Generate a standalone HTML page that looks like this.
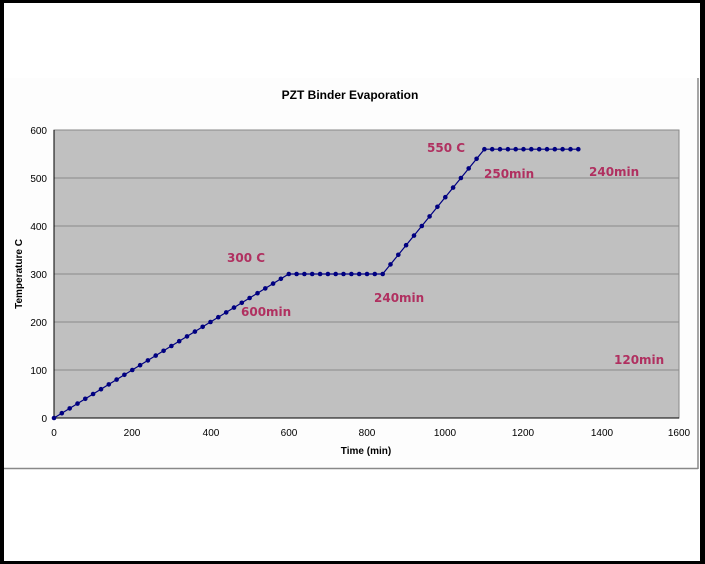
<!DOCTYPE html>
<html><head><meta charset="utf-8"><style>
body{margin:0;background:#fff}
svg{display:block;font-family:"Liberation Sans",Arial,sans-serif}
</style></head><body>
<svg width="705" height="564" viewBox="0 0 705 564">
<rect x="0" y="0" width="705" height="564" fill="#000"/>
<rect x="4" y="3" width="696" height="558" fill="#fff"/>
<rect x="4" y="78" width="694" height="390" fill="#fdfdfd"/>
<line x1="698" y1="78" x2="698" y2="469" stroke="#888" stroke-width="1.5"/>
<line x1="4" y1="468.5" x2="698" y2="468.5" stroke="#888" stroke-width="1.5"/>
<rect x="54" y="130" width="625" height="288" fill="#c0c0c0" stroke="#888" stroke-width="1"/>
<g stroke="#8a8a8a" stroke-width="1">
<line x1="54" y1="178" x2="679" y2="178"/>
<line x1="54" y1="226" x2="679" y2="226"/>
<line x1="54" y1="274" x2="679" y2="274"/>
<line x1="54" y1="322" x2="679" y2="322"/>
<line x1="54" y1="370" x2="679" y2="370"/>
</g>
<g stroke="#000" stroke-width="1">
<line x1="54" y1="418" x2="679" y2="418"/>
<line x1="54" y1="130" x2="54" y2="418"/>
</g>
<g font-size="10" fill="#000" text-anchor="end">
<text x="47" y="134">600</text><text x="47" y="182">500</text><text x="47" y="230">400</text>
<text x="47" y="278">300</text><text x="47" y="326">200</text><text x="47" y="374">100</text><text x="47" y="422">0</text>
</g>
<g font-size="10" fill="#000" text-anchor="middle">
<text x="54" y="436">0</text><text x="132" y="436">200</text><text x="211" y="436">400</text>
<text x="289" y="436">600</text><text x="367" y="436">800</text><text x="445" y="436">1000</text>
<text x="523" y="436">1200</text><text x="602" y="436">1400</text><text x="679" y="436">1600</text>
</g>
<text x="366" y="454" font-size="10" font-weight="bold" text-anchor="middle">Time (min)</text>
<text x="22" y="274" font-size="10" font-weight="bold" text-anchor="middle" transform="rotate(-90 22 274)">Temperature C</text>
<text x="350" y="99" font-size="12" font-weight="bold" text-anchor="middle">PZT Binder Evaporation</text>
<polyline fill="none" stroke="#000080" stroke-width="1.2" points="54,418 288.75,274 382.65,274 484.4,149.2 578.3,149.2"/>
<g fill="#000080" id="pts"></g>
<g font-size="12" font-weight="bold" fill="#b03060" font-family="'DejaVu Sans',sans-serif">
<text x="227" y="262">300 C</text>
<text x="241" y="316">600min</text>
<text x="374" y="302">240min</text>
<text x="427" y="152">550 C</text>
<text x="484" y="178">250min</text>
<text x="589" y="176">240min</text>
<text x="614" y="364">120min</text>
</g>
<g fill="#000080">
<circle cx="54" cy="418" r="2.3"/><circle cx="61.8" cy="413.2" r="2.3"/><circle cx="69.7" cy="408.4" r="2.3"/><circle cx="77.5" cy="403.6" r="2.3"/><circle cx="85.3" cy="398.8" r="2.3"/><circle cx="93.1" cy="394" r="2.3"/><circle cx="101" cy="389.2" r="2.3"/><circle cx="108.8" cy="384.4" r="2.3"/><circle cx="116.6" cy="379.6" r="2.3"/><circle cx="124.4" cy="374.8" r="2.3"/><circle cx="132.3" cy="370" r="2.3"/><circle cx="140.1" cy="365.2" r="2.3"/><circle cx="147.9" cy="360.4" r="2.3"/><circle cx="155.7" cy="355.6" r="2.3"/><circle cx="163.6" cy="350.8" r="2.3"/><circle cx="171.4" cy="346" r="2.3"/><circle cx="179.2" cy="341.2" r="2.3"/><circle cx="187" cy="336.4" r="2.3"/><circle cx="194.9" cy="331.6" r="2.3"/><circle cx="202.7" cy="326.8" r="2.3"/><circle cx="210.5" cy="322" r="2.3"/><circle cx="218.3" cy="317.2" r="2.3"/><circle cx="226.2" cy="312.4" r="2.3"/><circle cx="234" cy="307.6" r="2.3"/><circle cx="241.8" cy="302.8" r="2.3"/><circle cx="249.6" cy="298" r="2.3"/><circle cx="257.5" cy="293.2" r="2.3"/><circle cx="265.3" cy="288.4" r="2.3"/><circle cx="273.1" cy="283.6" r="2.3"/><circle cx="280.9" cy="278.8" r="2.3"/><circle cx="288.8" cy="274" r="2.3"/>
<circle cx="296.6" cy="274" r="2.3"/><circle cx="304.4" cy="274" r="2.3"/><circle cx="312.2" cy="274" r="2.3"/><circle cx="320.1" cy="274" r="2.3"/><circle cx="327.9" cy="274" r="2.3"/><circle cx="335.7" cy="274" r="2.3"/><circle cx="343.5" cy="274" r="2.3"/><circle cx="351.4" cy="274" r="2.3"/><circle cx="359.2" cy="274" r="2.3"/><circle cx="367" cy="274" r="2.3"/><circle cx="374.8" cy="274" r="2.3"/><circle cx="382.7" cy="274" r="2.3"/>
<circle cx="390.5" cy="264.4" r="2.3"/><circle cx="398.3" cy="254.8" r="2.3"/><circle cx="406.1" cy="245.2" r="2.3"/><circle cx="414" cy="235.6" r="2.3"/><circle cx="421.8" cy="226" r="2.3"/><circle cx="429.6" cy="216.4" r="2.3"/><circle cx="437.4" cy="206.8" r="2.3"/><circle cx="445.3" cy="197.2" r="2.3"/><circle cx="453.1" cy="187.6" r="2.3"/><circle cx="460.9" cy="178" r="2.3"/><circle cx="468.7" cy="168.4" r="2.3"/><circle cx="476.6" cy="158.8" r="2.3"/><circle cx="484.4" cy="149.2" r="2.3"/>
<circle cx="492.2" cy="149.2" r="2.3"/><circle cx="500" cy="149.2" r="2.3"/><circle cx="507.9" cy="149.2" r="2.3"/><circle cx="515.7" cy="149.2" r="2.3"/><circle cx="523.5" cy="149.2" r="2.3"/><circle cx="531.3" cy="149.2" r="2.3"/><circle cx="539.2" cy="149.2" r="2.3"/><circle cx="547" cy="149.2" r="2.3"/><circle cx="554.8" cy="149.2" r="2.3"/><circle cx="562.6" cy="149.2" r="2.3"/><circle cx="570.5" cy="149.2" r="2.3"/><circle cx="578.3" cy="149.2" r="2.3"/>
</g>
</svg>
</body></html>
